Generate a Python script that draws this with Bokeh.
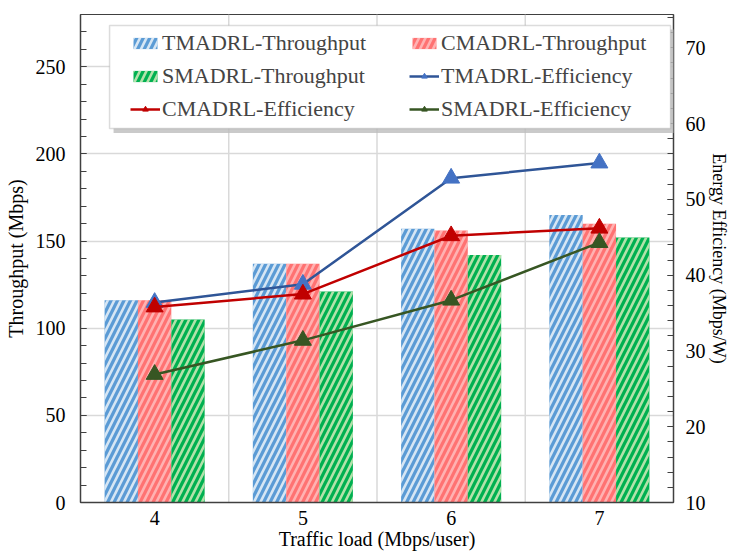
from bokeh.plotting import figure
from bokeh.models import (FactorRange, Range1d, LinearAxis, SingleIntervalTicker,
                          Legend, LegendItem, ColumnDataSource, Span, BoxAnnotation)
from bokeh.transform import dodge
from bokeh.embed import file_html
from bokeh.resources import INLINE

loads = ["4", "5", "6", "7"]
tmadrl_thr = [116, 137, 157, 165]
cmadrl_thr = [116, 137, 156, 160]
smadrl_thr = [105, 121, 142, 152]
tmadrl_eff = [36.4, 38.8, 52.8, 54.8]
cmadrl_eff = [35.8, 37.5, 45.2, 46.2]
smadrl_eff = [26.9, 31.4, 36.7, 44.3]

FONT = "Liberation Serif"

src = ColumnDataSource(dict(x=loads, t=tmadrl_thr, c=cmadrl_thr, s=smadrl_thr,
                            te=tmadrl_eff, ce=cmadrl_eff, se=smadrl_eff))

p = figure(width=731, height=554, x_range=FactorRange(*loads, range_padding=0),
           y_range=Range1d(0, 280), output_backend="svg", toolbar_location=None,
           min_border_left=80, min_border_right=57, min_border_top=14,
           min_border_bottom=52)
p.extra_y_ranges = {"ee": Range1d(10, 74.4)}

bw = 0.225
HS, HW = 13, 2.6
b1 = p.vbar(x=dodge("x", -bw, range=p.x_range), top="t", width=bw, source=src,
            fill_color="#5b9bd5", line_color=None, hatch_pattern="/",
            hatch_color="white", hatch_alpha=0.75, hatch_scale=HS, hatch_weight=HW)
b2 = p.vbar(x=dodge("x", 0, range=p.x_range), top="c", width=bw, source=src,
            fill_color="#ff7272", line_color=None, hatch_pattern="/",
            hatch_color="white", hatch_alpha=0.45, hatch_scale=HS, hatch_weight=HW)
b3 = p.vbar(x=dodge("x", bw, range=p.x_range), top="s", width=bw, source=src,
            fill_color="#00b050", line_color=None, hatch_pattern="/",
            hatch_color="#c5e8b4", hatch_alpha=0.9, hatch_scale=HS, hatch_weight=HW)

l1 = p.line("x", "te", source=src, y_range_name="ee", line_color="#2f5597", line_width=2.5)
m1 = p.scatter("x", "te", source=src, y_range_name="ee", marker="triangle", size=17,
               fill_color="#4472c4", line_color="#4472c4")
l2 = p.line("x", "ce", source=src, y_range_name="ee", line_color="#c00000", line_width=2.5)
m2 = p.scatter("x", "ce", source=src, y_range_name="ee", marker="triangle", size=17,
               fill_color="#c00000", line_color="#c00000")
l3 = p.line("x", "se", source=src, y_range_name="ee", line_color="#375623", line_width=2.5)
m3 = p.scatter("x", "se", source=src, y_range_name="ee", marker="triangle", size=17,
               fill_color="#375623", line_color="#375623")

# axes
p.yaxis.ticker = SingleIntervalTicker(interval=50, num_minor_ticks=5)
right = LinearAxis(y_range_name="ee", ticker=SingleIntervalTicker(interval=10, num_minor_ticks=5),
                   axis_label="Energy Efficiency (Mbps/W)")
p.add_layout(right, "right")
p.xaxis.axis_label = "Traffic load (Mbps/user)"
p.yaxis[0].axis_label = "Throughput (Mbps)"

for ax in [p.xaxis[0], p.yaxis[0], right]:
    ax.axis_line_color = "#404040"
    ax.axis_line_width = 1.5
    ax.major_tick_in = 6
    ax.major_tick_out = 0
    ax.minor_tick_in = 6
    ax.minor_tick_out = 0
    ax.major_tick_line_color = "#404040"
    ax.minor_tick_line_color = "#404040"
    ax.major_label_text_font = FONT
    ax.major_label_text_font_size = "20px"
    ax.major_label_text_color = "black"
    ax.axis_label_text_font = FONT
    ax.axis_label_text_font_size = "20px"
    ax.axis_label_text_font_style = "normal"
    ax.axis_label_text_color = "black"
    ax.axis_label_standoff = 6
    ax.major_label_standoff = 15
p.xaxis.major_tick_in = 0
p.xaxis.minor_tick_in = 0
p.xaxis.major_label_standoff = 8
p.xaxis.axis_label_standoff = 0
right.axis_label_standoff = 0
right.major_label_standoff = 12
right.axis_label_text_font_size = "18px"

p.outline_line_color = "#404040"
p.outline_line_width = 1
p.ygrid.grid_line_color = "#d9d9d9"
p.ygrid.grid_line_width = 1.5
p.xgrid.grid_line_color = None

# vertical separators between groups
for xv in [1.0, 2.0, 3.0]:
    p.add_layout(Span(location=xv, dimension="height", line_color="#d9d9d9",
                      line_width=1.5, level="underlay"))

# legend frame with shadow
p.add_layout(BoxAnnotation(left=0.223, right=4.01, top=271.4, bottom=212.0,
                           fill_color="#bdbdbd", fill_alpha=0.8, line_color=None))
p.add_layout(BoxAnnotation(left=0.196, right=3.98, top=273.7, bottom=214.6,
                           fill_color="white", fill_alpha=1.0, line_color="#8c8c8c",
                           line_width=1.5))

legend = Legend(items=[
    LegendItem(label="TMADRL-Throughput", renderers=[b1]),
    LegendItem(label="SMADRL-Throughput", renderers=[b3]),
    LegendItem(label="CMADRL-Efficiency", renderers=[l2, m2]),
    LegendItem(label="CMADRL-Throughput", renderers=[b2]),
    LegendItem(label="TMADRL-Efficiency", renderers=[l1, m1]),
    LegendItem(label="SMADRL-Efficiency", renderers=[l3, m3]),
], ncols=2, location=(50, 380), label_text_font=FONT, label_text_font_size="22px",
    glyph_width=30, glyph_height=14, label_standoff=2, spacing=7, padding=0,
    label_width=240, label_height=26, border_line_alpha=0,
    background_fill_alpha=0, margin=0)
p.add_layout(legend)

open("out.html", "w").write(file_html(p, INLINE))
